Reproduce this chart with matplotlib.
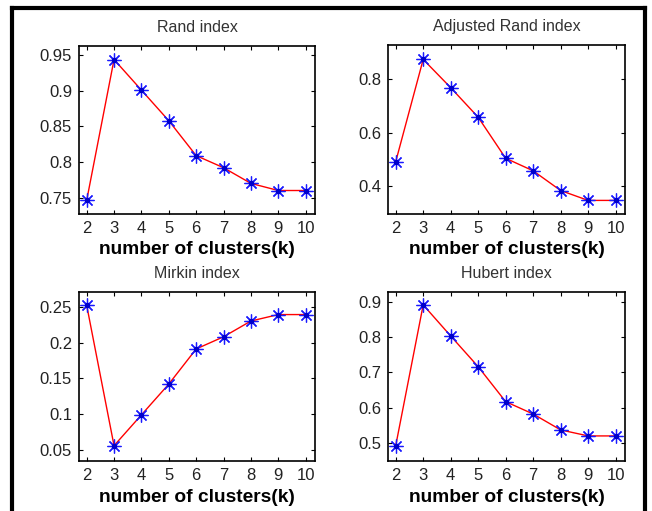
import matplotlib.pyplot as plt
from matplotlib.lines import Line2D

plt.rcParams['font.family'] = ['Liberation Sans', 'DejaVu Sans']

# --- Data ---
k = [2, 3, 4, 5, 6, 7, 8, 9, 10]
rand_idx = [0.746, 0.944, 0.901, 0.858, 0.809, 0.792, 0.770, 0.760, 0.760]
adj_rand_idx = [0.491, 0.875, 0.769, 0.658, 0.504, 0.457, 0.383, 0.346, 0.346]
mirkin_idx = [0.252, 0.056, 0.099, 0.142, 0.191, 0.208, 0.230, 0.239, 0.239]
hubert_idx = [0.492, 0.891, 0.803, 0.716, 0.617, 0.582, 0.537, 0.520, 0.520]

panels = [
    ("Rand index", rand_idx, (0.727, 0.963), [0.75, 0.8, 0.85, 0.9, 0.95],
     ["0.75", "0.8", "0.85", "0.9", "0.95"], [79, 46, 315, 214]),
    ("Adjusted Rand index", adj_rand_idx, (0.295, 0.929), [0.4, 0.6, 0.8],
     ["0.4", "0.6", "0.8"], [388, 45, 625, 214]),
    ("Mirkin index", mirkin_idx, (0.0346, 0.2705), [0.05, 0.1, 0.15, 0.2, 0.25],
     ["0.05", "0.1", "0.15", "0.2", "0.25"], [79, 292, 315, 461]),
    ("Hubert index", hubert_idx, (0.449, 0.9275), [0.5, 0.6, 0.7, 0.8, 0.9],
     ["0.5", "0.6", "0.7", "0.8", "0.9"], [388, 292, 625, 461]),
]

W, H = 652, 511
fig = plt.figure(figsize=(W / 100, H / 100), dpi=100)

for title, vals, ylim, yt, ytl, (x0, y0, x1, y1) in panels:
    ax = fig.add_axes([x0 / W, (H - y1) / H, (x1 - x0) / W, (y1 - y0) / H])
    ax.plot(k, vals, color='red', lw=1, zorder=2)
    ax.plot(k, vals, ls='none', marker=(8, 2, 0), ms=10, mew=0.9,
            color='#1a1aff', zorder=3)
    ax.plot(k, vals, ls='none', marker='o', ms=3, color='#0000cc', zorder=3)
    ax.set_xlim(1.72, 10.34)
    ax.set_ylim(*ylim)
    ax.set_xticks(k)
    ax.set_yticks(yt)
    ax.set_yticklabels(ytl)
    ax.tick_params(direction='in', top=True, right=True, labelsize=12,
                   length=3, width=0.8, colors='black', labelcolor='#222222',
                   pad=5)
    for s in ax.spines.values():
        s.set_linewidth(1.2)
    ax.set_title(title, fontsize=11.5, color='#333333', pad=10)
    ax.set_xlabel("number of clusters(k)", fontsize=13.8, fontweight='bold',
                  labelpad=4)

# outer frame
lw = 3
fig.add_artist(Line2D([12 / W, 12 / W], [0, 1 - 8 / H], color='black', lw=lw))
fig.add_artist(Line2D([12 / W, 645 / W], [1 - 8 / H, 1 - 8 / H], color='black', lw=lw))
fig.add_artist(Line2D([645 / W, 645 / W], [0, 1 - 8 / H], color='black', lw=lw))

fig.savefig("out.png", dpi=100)
